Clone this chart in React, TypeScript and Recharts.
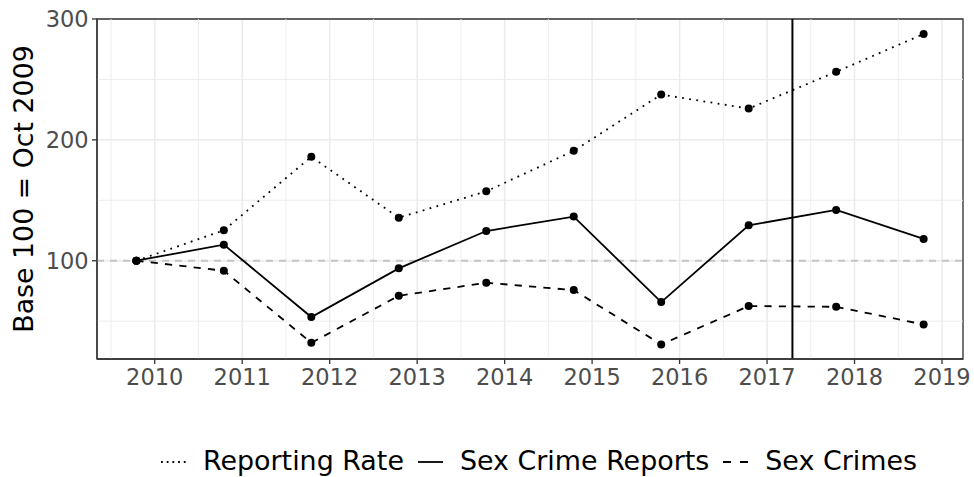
import {
  CartesianGrid,
  Line,
  LineChart,
  ReferenceArea,
  ReferenceLine,
  XAxis,
  YAxis,
} from "recharts";

// observations are taken each October (decimal years)
const PERIODS = [
  2009.79, 2010.79, 2011.79, 2012.79, 2013.79, 2014.79, 2015.79, 2016.79,
  2017.79, 2018.79,
];
const REPORTING_RATE = [
  100, 125.2, 186, 135.6, 157.4, 190.9, 237.5, 225.9, 256.3, 287.6,
];
const SEX_CRIME_REPORTS = [
  100, 113.3, 53.4, 93.7, 124.6, 136.5, 65.8, 129.3, 142, 118,
];
const SEX_CRIMES = [100, 91.7, 32.1, 71, 81.8, 75.7, 30.7, 62.5, 61.9, 47.3];

const X_TICKS = [2010, 2011, 2012, 2013, 2014, 2015, 2016, 2017, 2018, 2019];
const X_MINOR = [
  2009.5, 2010.5, 2011.5, 2012.5, 2013.5, 2014.5, 2015.5, 2016.5, 2017.5,
  2018.5,
];
const Y_TICKS = [100, 200, 300];
const Y_MINOR = [50, 150, 250];
const X_DOMAIN: [number, number] = [2009.34, 2019.24];
const Y_DOMAIN: [number, number] = [18.7, 300];
const BASELINE = 100;
const POLICY_DATE = 2017.29;

const Y_TITLE = "Base 100 = Oct 2009";

const SERIES = [
  { key: "reportingRate", name: "Reporting Rate", dash: "1.8 5.4", keyDash: "1.8 3.9" },
  { key: "sexCrimeReports", name: "Sex Crime Reports", dash: undefined, keyDash: undefined },
  { key: "sexCrimes", name: "Sex Crimes", dash: "7.2 7.2", keyDash: "8 9" },
];

const FONT = "'DejaVu Sans', Verdana, sans-serif";
const GRID = "#ebebeb";
const TEXT_GREY = "#4d4d4d";

const chartData = PERIODS.map((x, i) => ({
  x,
  reportingRate: REPORTING_RATE[i],
  sexCrimeReports: SEX_CRIME_REPORTS[i],
  sexCrimes: SEX_CRIMES[i],
}));

function YTitle(props: any) {
  const vb = props.viewBox || { x: 0, y: 19, width: 97, height: 340 };
  const cx = vb.x + 33;
  const cy = vb.y + vb.height / 2;
  return (
    <text
      x={cx}
      y={cy}
      transform={`rotate(-90, ${cx}, ${cy})`}
      textAnchor="middle"
      fontSize={26.8}
      fontFamily={FONT}
      fill="#000"
    >
      {Y_TITLE}
    </text>
  );
}

export default function App() {
  return (
    <div
      style={{
        position: "absolute",
        left: 0,
        top: 0,
        width: 974,
        height: 477,
        background: "#fff",
        fontFamily: FONT,
      }}
    >
      <LineChart
        width={974}
        height={477}
        data={chartData}
        margin={{ top: 19, right: 11, bottom: 0, left: 0 }}
      >
        <CartesianGrid stroke={GRID} strokeWidth={1.5} />
        {X_MINOR.map((v) => (
          <ReferenceLine key={`xm${v}`} x={v} stroke={GRID} strokeWidth={0.9} />
        ))}
        {Y_MINOR.map((v) => (
          <ReferenceLine key={`ym${v}`} y={v} stroke={GRID} strokeWidth={0.9} />
        ))}
        <XAxis
          type="number"
          dataKey="x"
          domain={X_DOMAIN}
          ticks={X_TICKS}
          interval={0}
          allowDataOverflow
          height={118}
          tickSize={5}
          tickMargin={4.7}
          tickFormatter={(v) => String(v)}
          tick={{ fill: TEXT_GREY, fontSize: 22.5, fontFamily: FONT }}
          axisLine={{ stroke: "#333333", strokeWidth: 1.3 }}
          tickLine={{ stroke: "#333333", strokeWidth: 1.3 }}
        />
        <YAxis
          type="number"
          domain={Y_DOMAIN}
          ticks={Y_TICKS}
          interval={0}
          allowDataOverflow
          width={97}
          tickSize={5}
          tickMargin={3.4}
          tick={{ fill: TEXT_GREY, fontSize: 22.5, fontFamily: FONT }}
          axisLine={{ stroke: "#333333", strokeWidth: 1.3 }}
          tickLine={{ stroke: "#333333", strokeWidth: 1.3 }}
          label={<YTitle />}
        />
        <ReferenceLine
          y={BASELINE}
          stroke="#c4c4c4"
          strokeWidth={1.8}
          strokeDasharray="7 6"
        />
        <ReferenceLine x={POLICY_DATE} stroke="#000" strokeWidth={2} />
        {SERIES.map((s) => (
          <Line
            key={s.key}
            type="linear"
            dataKey={s.key}
            name={s.name}
            stroke="#000"
            strokeWidth={1.8}
            strokeDasharray={s.dash}
            dot={{ r: 4, fill: "#000", stroke: "none", strokeDasharray: "none" }}
            activeDot={false}
            isAnimationActive={false}
          />
        ))}
        <ReferenceArea
          x1={X_DOMAIN[0]}
          x2={X_DOMAIN[1]}
          y1={Y_DOMAIN[0]}
          y2={Y_DOMAIN[1]}
          fill="none"
          stroke="#333333"
          strokeWidth={1.3}
        />
      </LineChart>

      {/* legend */}
      <div
        style={{
          position: "absolute",
          left: 161,
          top: 448,
          height: 27,
          display: "flex",
          alignItems: "center",
          fontSize: 26.9,
          lineHeight: 1,
          color: "#000",
          whiteSpace: "nowrap",
        }}
      >
        {SERIES.map((s, i) => (
          <div
            key={s.key}
            style={{
              display: "flex",
              alignItems: "center",
              marginRight: i < SERIES.length - 1 ? 14 : 0,
            }}
          >
            <svg width={25} height={8} style={{ marginRight: 17 }}>
              <line
                x1={0}
                y1={4}
                x2={25}
                y2={4}
                stroke="#000"
                strokeWidth={1.8}
                strokeDasharray={s.keyDash}
              />
            </svg>
            <span>{s.name}</span>
          </div>
        ))}
      </div>
    </div>
  );
}
